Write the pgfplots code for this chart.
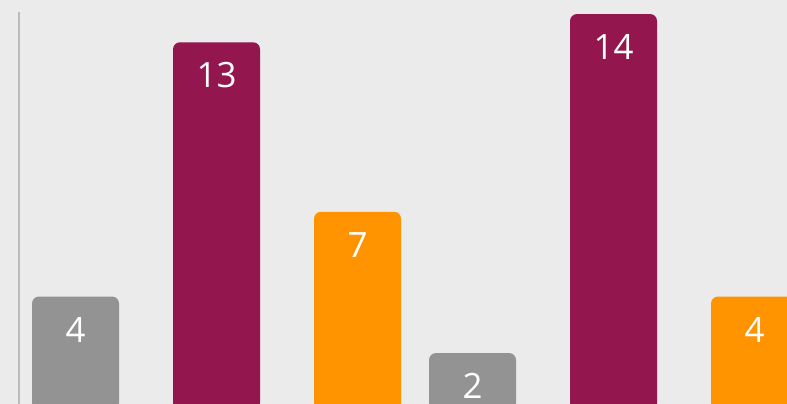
\documentclass[border=0pt]{standalone}
\usepackage{fontspec}
\setmainfont{Open Sans}
\usepackage{pgfplots}
\pgfplotsset{compat=1.18}
\definecolor{bgcol}{HTML}{EBEBEB}
\definecolor{cgray}{HTML}{939393}
\definecolor{cmaroon}{HTML}{93164E}
\definecolor{corange}{HTML}{FF9400}
\definecolor{cline}{HTML}{BBBBBB}
\begin{document}
\begin{tikzpicture}
\fill[bgcol] (0,19.63bp) rectangle (787bp,423.63bp);
\clip (0,19.63bp) rectangle (787bp,423.63bp);
\begin{scope}[overlay]
\begin{axis}[
  scale only axis, width=787bp, height=423.63bp,
  xmin=0, xmax=787, ymin=-0.5, ymax=14.496,
  hide axis,
  ybar, bar width=87, bar shift=0pt,
  nodes near coords={\fontsize{35}{40}\selectfont\pgfmathprintnumber[assume math mode=true]{\pgfplotspointmeta}},
  every node near coord/.append style={anchor=center, yshift=-33bp, text=white},
]
\addplot[draw=none, fill=cgray, rounded corners=7bp] coordinates {(75.5,4) (472.5,2)};
\addplot[draw=none, fill=cmaroon, rounded corners=7bp] coordinates {(216.5,13) (613.5,14)};
\addplot[draw=none, fill=corange, rounded corners=7bp] coordinates {(357.5,7) (754.5,4)};
\draw[cline, line width=1.5bp] (axis cs:19.2,14.07) -- (axis cs:19.2,-0.5);
\end{axis}
\end{scope}
\end{tikzpicture}
\end{document}
